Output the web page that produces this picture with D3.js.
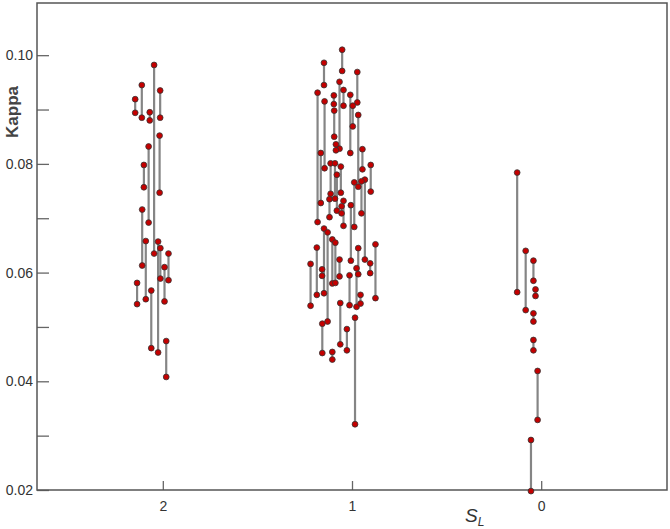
<!DOCTYPE html>
<html>
<head>
<meta charset="utf-8">
<script src="https://cdn.jsdelivr.net/npm/d3@7"></script>
<style>
  html, body { margin: 0; padding: 0; background: #fff; }
  svg { display: block; }
  text { font-family: Arial, "Liberation Sans", sans-serif; }
</style>
</head>
<body>
<svg id="chart" width="670" height="529"></svg>
<script>
// S_L position of each connected pair
const sL = [
  2.146, 2.111, 2.069, 2.046, 2.014, 2.017, 2.075, 2.100, 2.109, 2.090, 2.025, 2.013, 1.991, 1.970, 2.136, 2.061, 1.982,
  1.052, 1.148, 0.972, 1.066, 1.182, 1.145, 1.096, 1.094, 1.045, 1.009, 0.996, 0.967, 0.945, 0.901, 1.165, 1.113,
  1.085, 1.059, 1.080, 1.090, 1.045, 1.055, 0.988, 1.006, 0.932, 0.950, 1.119, 1.148, 1.129, 1.104, 1.088, 1.186,
  1.219, 0.876, 0.967, 1.066, 0.904, 0.976, 1.158, 1.013, 0.984, 0.955, 1.157, 1.104, 1.062, 1.027,
  0.127, 0.082, 0.041, 0.030, 0.041, 0.041, 0.019, 0.054
];
// Kappa at the upper point of each pair
const kappaHigh = [
  0.0919, 0.0945, 0.0895, 0.0982, 0.0935, 0.0852, 0.0832, 0.0798, 0.0716, 0.0658, 0.0657, 0.0645, 0.0610, 0.0635, 0.0581, 0.0567, 0.0474,
  0.1010, 0.0986, 0.0969, 0.0951, 0.0931, 0.0915, 0.0926, 0.0898, 0.0936, 0.0927, 0.0907, 0.0890, 0.0827, 0.0798, 0.0820, 0.0801,
  0.0836, 0.0795, 0.0780, 0.0801, 0.0732, 0.0722, 0.0766, 0.0724, 0.0771, 0.0768, 0.0735, 0.0681, 0.0674, 0.0661, 0.0655, 0.0646,
  0.0616, 0.0652, 0.0645, 0.0624, 0.0617, 0.0608, 0.0606, 0.0595, 0.0517, 0.0559, 0.0506, 0.0454, 0.0544, 0.0496,
  0.0784, 0.0640, 0.0622, 0.0569, 0.0525, 0.0476, 0.0419, 0.0292
];
// Kappa at the lower point of each pair
const kappaLow = [
  0.0894, 0.0885, 0.0880, 0.0635, 0.0885, 0.0747, 0.0692, 0.0757, 0.0613, 0.0551, 0.0453, 0.0589, 0.0547, 0.0586, 0.0542, 0.0461, 0.0408,
  0.0971, 0.0945, 0.0913, 0.0828, 0.0693, 0.0792, 0.0910, 0.0850, 0.0907, 0.0820, 0.0869, 0.0758, 0.0790, 0.0749, 0.0728, 0.0745,
  0.0825, 0.0747, 0.0714, 0.0736, 0.0686, 0.0709, 0.0684, 0.0622, 0.0624, 0.0709, 0.0702, 0.0562, 0.0510, 0.0580, 0.0581, 0.0559,
  0.0539, 0.0553, 0.0597, 0.0593, 0.0599, 0.0537, 0.0594, 0.0540, 0.0321, 0.0543, 0.0452, 0.0440, 0.0468, 0.0457,
  0.0564, 0.0531, 0.0585, 0.0557, 0.0510, 0.0457, 0.0329, 0.0198
];
const xTicks = [2, 1, 0];
const yMajorTicks = [0.02, 0.04, 0.06, 0.08, 0.10];
const yMinorTicks = [0.03, 0.05, 0.07, 0.09];

const plotLeft = 37, plotRight = 667, plotTop = 3, plotBottom = 490;
const svg = d3.select("#chart");

const x = d3.scaleLinear().domain([2.665, -0.665]).range([plotLeft, plotRight]);
const y = d3.scaleLinear().domain([0.02, 0.1096]).range([plotBottom, plotTop]);

const pairs = sL.map((s, i) => ({ s, hi: kappaHigh[i], lo: kappaLow[i] }));

const yAx = svg.append("g").attr("transform", `translate(${plotLeft},0)`)
  .call(d3.axisLeft(y).tickValues(yMajorTicks).tickSizeInner(-12).tickSizeOuter(0).tickPadding(4).tickFormat(d3.format(".2f")));
const yMin = svg.append("g").attr("transform", `translate(${plotLeft},0)`)
  .call(d3.axisLeft(y).tickValues(yMinorTicks).tickSizeInner(-12).tickSizeOuter(0).tickFormat(""));
const xAx = svg.append("g").attr("transform", `translate(0,${plotBottom})`)
  .call(d3.axisBottom(x).tickValues(xTicks).tickSizeInner(-9).tickSizeOuter(0).tickPadding(11).tickFormat(d3.format("d")));

[yAx, yMin, xAx].forEach(g => {
  g.attr("font-size", null).attr("font-family", null);
  g.select(".domain").remove();
  g.selectAll(".tick line").attr("stroke", "#666").attr("stroke-width", 1.3);
  g.selectAll(".tick text").attr("fill", "#333").style("font-size", "14px");
});

// frame
svg.append("rect").attr("x", plotLeft).attr("y", plotTop)
  .attr("width", plotRight - plotLeft).attr("height", plotBottom - plotTop)
  .attr("fill", "none").attr("stroke", "#555").attr("stroke-width", 1.5);

// connecting lines
svg.append("g").selectAll("line").data(pairs).join("line")
  .attr("x1", d => x(d.s)).attr("x2", d => x(d.s))
  .attr("y1", d => y(d.hi)).attr("y2", d => y(d.lo))
  .attr("stroke", "#858585").attr("stroke-width", 2.2);

// dots
const pts = pairs.flatMap(d => [{ s: d.s, k: d.hi }, { s: d.s, k: d.lo }]);
svg.append("g").selectAll("circle").data(pts).join("circle")
  .attr("cx", d => x(d.s)).attr("cy", d => y(d.k)).attr("r", 2.9)
  .attr("fill", "#c40000").attr("stroke", "#333").attr("stroke-width", 0.8);

// axis titles
svg.append("text").attr("transform", "translate(18,112) rotate(-90)")
  .attr("text-anchor", "middle").style("font-size", "17px").attr("font-weight", "bold")
  .attr("fill", "#444").text("Kappa");

const sl = svg.append("text").attr("x", 465).attr("y", 522)
  .style("font-size", "19px").attr("font-style", "italic").attr("fill", "#333");
sl.append("tspan").text("S");
sl.append("tspan").style("font-size", "12px").attr("dy", 4).text("L");
</script>
</body>
</html>
